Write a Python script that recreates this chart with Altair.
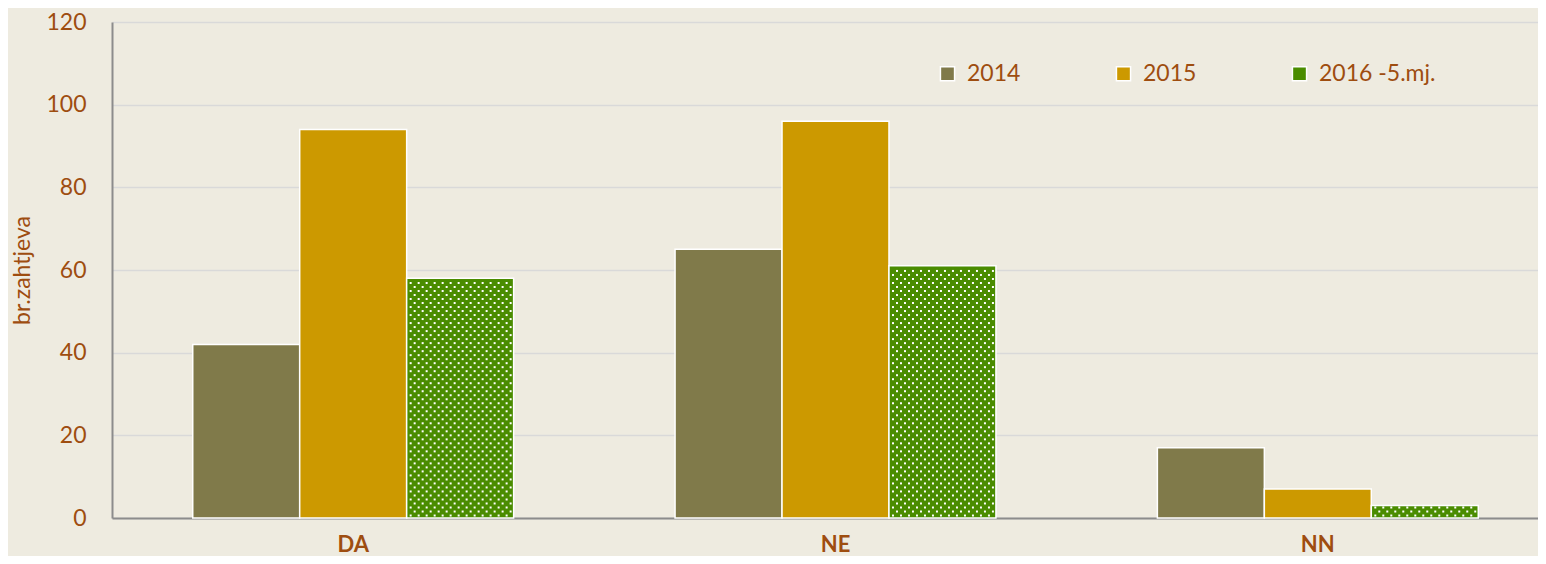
import altair as alt
import pandas as pd

# ---- data ----
categories = ["DA", "NE", "NN"]
series = ["2014", "2015", "2016 -5.mj."]
v2014 = [42, 65, 17]
v2015 = [94, 96, 7]
v2016 = [58, 61, 3]
colors = ["#807A4A", "#CC9900", "#4A8C00"]

TEXT = "#9E4D10"
BG = "#EEEBE0"
FONT = "Lato"

rows = []
for i, c in enumerate(categories):
    for s, vals in zip(series, [v2014, v2015, v2016]):
        rows.append({"cat": c, "series": s, "value": vals[i]})
df = pd.DataFrame(rows)

# white dot texture for the 2016 bars (derived from the 2016 values)
unit = 1.0 / 321.0
dots = []
for i, c in enumerate(categories):
    v = v2016[i]
    k = 0
    y = 0.6
    while y <= v - 0.4:
        off = 4 if k % 2 else 0
        u = 2.0 / 3.0 + (4 + off) * unit
        while u <= 1.0 - 3 * unit:
            dots.append({"cat": c, "u": u, "y": y})
            u += 8 * unit
        k += 1
        y += 0.97
ddf = pd.DataFrame(dots)

xscale = alt.Scale(domain=categories, range=[0, 1447], paddingInner=0.3347, paddingOuter=0.1674)
yscale = alt.Scale(domain=[0, 120])

bars = alt.Chart(df).mark_bar(stroke="white", strokeWidth=1.5).encode(
    x=alt.X("cat:N", scale=xscale, sort=categories,
            axis=alt.Axis(title=None, labelAngle=0, labelFontWeight="bold", labelFontSize=22,
                          labelColor=TEXT, labelFont=FONT, ticks=False, labelPadding=16,
                          domainColor="#8C8C8C", domainWidth=2, grid=False)),
    xOffset=alt.XOffset("series:N", sort=series, scale=alt.Scale(paddingInner=0, paddingOuter=0)),
    y=alt.Y("value:Q", scale=yscale,
            axis=alt.Axis(title="br.zahtjeva", values=[0, 20, 40, 60, 80, 100, 120], ticks=False,
                          labelFontSize=23, labelColor=TEXT, labelFont=FONT, labelPadding=26,
                          titleFontSize=23, titleColor=TEXT, titleFont=FONT, titleFontWeight="normal",
                          titlePadding=11, domainColor="#8C8C8C", domainWidth=2,
                          gridColor="#D9D9D9", gridWidth=1.5)),
    color=alt.Color("series:N", sort=series, scale=alt.Scale(domain=series, range=colors),
                    legend=alt.Legend(title=None, orient="none", legendX=824, legendY=40,
                                      direction="horizontal", columns=3, columnPadding=91,
                                      symbolType="square", symbolSize=200,
                                      symbolStrokeColor="white", symbolStrokeWidth=1.5,
                                      symbolOpacity=1,
                                      labelFontSize=23, labelColor=TEXT, labelFont=FONT,
                                      labelOffset=8)),
)

dotlayer = alt.Chart(ddf).mark_square(size=4, color="white", opacity=1, filled=True).encode(
    x=alt.X("cat:N", scale=xscale, sort=categories),
    xOffset=alt.XOffset("u:Q", scale=alt.Scale(domain=[0, 1])),
    y=alt.Y("y:Q", scale=yscale),
)

chart = alt.layer(bars, dotlayer).resolve_scale(xOffset="independent").properties(
    width=1426, height=496,
    autosize=alt.AutoSizeParams(type="none"),
    padding={"left": 104, "top": 14, "right": 0, "bottom": 38},
    background=BG,
).configure_view(stroke=None)

chart.save("out.html", embed_options={"renderer": "svg", "actions": False})
